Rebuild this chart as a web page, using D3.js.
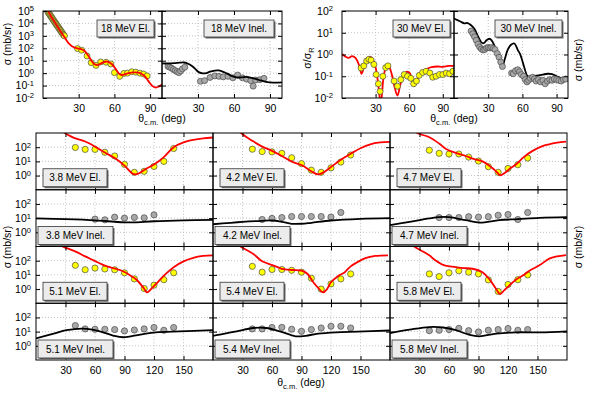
<!DOCTYPE html>
<html>
<head>
<meta charset="utf-8">
<script src="https://cdn.jsdelivr.net/npm/d3@7"></script>
<style>
body { margin: 0; background: #fff; }
svg { font-family: "Liberation Sans", Arial, sans-serif; }
</style>
</head>
<body>
<svg id="chart" width="600" height="402"></svg>
<script>
// ---- data (angle in deg, cross section) ----
let el18Pts = [[4,9e4],[4.5,7.5e4],[5,6.5e4],[5.5,5.5e4],[6,4.6e4],[6.5,3.9e4],[7,3.3e4],[7.5,2.8e4],[8,2.4e4],[8.5,2e4],[9,1.7e4],[9.5,1.45e4],[10,1.25e4],[10.5,1.05e4],[11,9e3],[11.5,7.6e3],[12,6.5e3],[12.5,5.6e3],[13,4.8e3],[13.5,4e3],[14,3.4e3],[14.5,2.9e3],[15,2.5e3],[15.5,2.1e3],[16,1.8e3],[16.5,1.5e3],[17,1.3e3],[17.5,1.15e3],[18,1e3],
    [29,95],[32.5,70],[37,24],[40.5,7],[44.5,4.2],[48.5,8],[53,7.5],[57,5.5],[60,1.1],[64.5,0.55],[68,0.95],[71,1.0],[74.5,1.3],[78,1.2],[81.5,1.0],[84.5,0.85],[87.5,0.6]];
let el18Fit = [[3,2e5],[6,5e4],[10,1.2e4],[14,3e3],[18,800],[22,230],[26,120],[29,100],[32,85],[35,60],[37,35],[39,18],[41,9],[43,5.5],[46,4.4],[50,7],[54,8.6],[58,5.2],[61,2.2],[63.5,1.0],[66,0.7],[68.5,0.8],[72,1.0],[76,1.15],[80,1.1],[83,0.85],[86,0.5],[89,0.2],[92,0.09],[94.5,0.07],[97,0.08],[100,0.12]];
let inel18Pts = [[5,3.5],[6.5,3.0],[8,2.5],[9.5,2.0],[11,1.6],[12.5,1.3],[14,1.1],[15.5,1.5],[17,2.2],[19,3.0],[32,0.22],[35.5,0.25],[40,0.45],[44,0.6],[47.5,0.55],[51,0.5],[55,0.55],[59,0.42],[63,0.7],[67,0.42],[70.5,0.33],[74,0.25],[76,0.09],[78,0.28],[81.5,0.3],[85,0.38]];
let inel18Fit = [[0,6.0],[5,6.0],[10,6.3],[15,7.0],[18,7.2],[21,6.2],[25,3.8],[28,2.0],[31,1.15],[34,0.95],[37,1.0],[40,1.3],[44,1.6],[47,1.65],[50,1.4],[54,0.95],[58,0.6],[62,0.46],[66,0.45],[70,0.5],[73,0.45],[77,0.36],[81,0.28],[85,0.22],[90,0.18],[95,0.17],[100,0.18]];

let el30Pts = [[17,0.24],[19.5,0.3],[22,0.5],[24,0.6],[26,0.55],[28.5,0.35],[30.5,0.12],[32.5,0.045],[34,0.02],[36.5,0.1],[39,0.25],[41,0.3],[46.5,0.06],[49.5,0.035],[52.5,0.07],[55.5,0.12],[58.5,0.1],[61.5,0.08],[64,0.045],[66.5,0.06],[69,0.11],[72,0.15],[75,0.17],[78.5,0.14],[81,0.09],[84,0.1],[87,0.12],[90,0.12],[93,0.14],[96,0.13],[99,0.17]];
let el30Fit = [[0,1.05],[3,0.8],[6,0.7],[9,0.85],[12,0.7],[15,0.35],[17.5,0.13],[19.5,0.25],[22,0.6],[25,0.8],[27.5,0.6],[30,0.25],[32,0.06],[33.5,0.012],[34.5,0.006],[35.5,0.012],[37,0.08],[39.5,0.28],[41.5,0.3],[44,0.15],[46.5,0.04],[49.5,0.013],[52,0.04],[55,0.12],[57.5,0.16],[60.5,0.14],[63,0.05],[64.5,0.035],[66.5,0.06],[69,0.1],[72,0.17],[76,0.22],[80,0.26],[85,0.28],[90,0.27],[95,0.3],[100,0.3]];
let inel30Pts = [[15,12],[16.5,9],[18,6.5],[19.5,4.5],[21,3.0],[22.5,2.2],[24,1.8],[25.5,1.6],[27,1.7],[28.5,2.0],[30,2.1],[31.5,2.0],[33,2.1],[34.5,1.9],[36,1.7],[38,1.1],[39.5,0.75],[41,0.45],[42.5,0.28],[50.5,0.14],[52,0.13],[54,0.18],[56,0.2],[57.5,0.16],[59,0.12],[61,0.1],[62.5,0.07],[64,0.055],[65.5,0.065],[67,0.08],[69,0.09],[70.5,0.075],[72,0.06],[74,0.07],[76,0.055],[78,0.065],[80,0.045],[82,0.06],[84,0.07],[86,0.065],[88,0.075],[90,0.07],[92,0.065],[94,0.06],[96,0.07],[98,0.075]];
let inel30Fit = [[0,45],[3,38],[6,32],[9,27],[12,28],[15,22],[18,15],[20,9],[22,5.5],[24,3.6],[26,3.3],[28.5,4.5],[31,5.3],[33,4.5],[35.5,2.5],[38,1.1],[40.5,0.45],[42.5,0.3],[44.5,0.6],[47,1.6],[50,2.8],[53,3.2],[56,1.6],[58,1.05],[60,0.5],[62,0.22],[64.5,0.1],[67,0.095],[70,0.1],[74,0.11],[78,0.12],[82,0.13],[86,0.125],[90,0.1],[95,0.08],[100,0.065]];

let el38Pts = [[40,95],[50,70],[60,70],[70,44],[80,24],[90,6.1],[100,1.7],[110,2.0],[120,4.4],[130,10],[140,81]];
let el38Fit = [[20,3000],[28,1150],[35,600],[40,420],[50,250],[60,110],[70,42],[80,17],[90,5],[97,1.6],[101,1.2],[106,1.6],[112,3],[120,6],[130,20],[140,100],[150,220],[160,330],[170,420],[180,480]];
let inel38Pts = [[60,8.5],[70,7.6],[80,11.7],[90,10],[100,11.2],[110,10.5],[120,17]];
let inel38Fit = [[0,9.5],[30,8.5],[60,7],[80,5.5],[90,5],[100,5],[120,6],[150,7],[180,7.5]];

let el42Pts = [[40,72],[50,49],[60,46],[70,37],[80,18],[90,6.9],[100,2.4],[110,1.7],[120,3.5],[130,8.9],[140,28]];
let el42Fit = [[22,3000],[27,1200],[40,280],[50,110],[60,55],[70,24],[80,9.5],[90,5.5],[100,2.0],[107,1.2],[113,1.8],[120,4],[130,13],[140,35],[150,85],[160,160],[170,215],[180,240]];
let inel42Pts = [[50,8],[60,9.5],[70,11],[80,13],[90,13],[100,13],[110,13],[120,12],[130,25]];
let inel42Fit = [[0,3.7],[30,5.5],[50,6.5],[60,6.8],[70,5.5],[80,4],[90,4],[100,4.7],[120,6.8],[150,8.9],[180,10]];

let el47Pts = [[40,61],[50,37],[60,33],[70,33],[80,20],[90,10.5],[100,4.2],[110,1.7],[120,3.2],[130,5.8],[140,17]];
let el47Fit = [[20,4000],[27,1100],[40,500],[50,180],[57,75],[67,40],[77,24],[85,15],[94,10],[101,5],[108,2],[112,1.05],[117,1.6],[123,3.5],[128,6],[136,20],[145,55],[155,120],[162,160],[170,210],[179,250]];
let inel47Pts = [[50,11],[60,11],[70,11],[80,12.6],[90,11.8],[100,12.6],[110,16],[120,18],[130,8],[140,25]];
let inel47Fit = [[0,3.2],[20,5.5],[40,9.5],[50,11.7],[60,11.7],[77,7.2],[91,4.9],[111,7.2],[130,8.5],[152,10.5],[180,11.7]];

let el51Pts = [[40,47],[50,23],[60,30],[70,26],[80,23],[90,14],[100,5.2],[110,1.1],[120,1.9],[130,4.6],[140,14]];
let el51Fit = [[20,3000],[25,1150],[33,700],[41,420],[50,200],[58.5,105],[67,55],[75,35],[82,26],[90,16],[96,9],[102,4.7],[109,1.3],[113,0.58],[117,1.0],[122,2.3],[132,11.7],[140,35],[150,90],[160,160],[170,215],[180,240]];
let inel51Pts = [[40,27],[50,15.5],[60,14.7],[70,14.7],[80,14],[90,11.2],[100,13],[110,15.5],[120,19.5],[130,12.5],[140,19.5]];
let inel51Fit = [[0,3.3],[18,7.2],[31,12.6],[48,16.2],[65,10.5],[79,5.1],[89,4],[106,6.2],[122,8.9],[146,10.5],[180,12.6]];

let el54Pts = [[40,40],[50,15.5],[60,24],[70,24],[80,21],[90,15.5],[100,5.8],[110,1.0],[120,2.3],[130,5.2],[140,11.7]];
let el54Fit = [[20,3000],[26,1200],[41,300],[50,90],[61,47],[70,27],[80,22],[90,20],[96,12],[102,3],[107,1.2],[112,0.58],[116,1.0],[120,3],[127,8],[134,15.5],[140,40],[147,80],[155,150],[165,215],[178,240]];
let inel54Pts = [[40,15.5],[50,15.5],[60,19.5],[70,20],[80,14.7],[90,10.5],[100,14],[110,18],[120,24],[130,24],[140,18]];
let inel54Fit = [[0,5],[7,6.2],[24,10.5],[41,18],[54,18],[68,10.5],[84,4.7],[94,5.1],[107,7.2],[125,8.9],[147,10],[180,12]];

let el58Pts = [[40,11.7],[50,7.6],[60,14],[70,19.5],[80,15.5],[90,11.7],[100,4.4],[110,0.68],[120,2.1],[130,4.6],[140,10]];
let el58Fit = [[18,3000],[23,1200],[40,240],[44,138],[54,51],[61,40],[67,35],[75,30],[84,27],[94,15.5],[101,5],[108,1.0],[112,0.44],[116,0.8],[121,1.7],[128,4.5],[135,9],[143,22],[152,47],[162,140],[170,200],[179,250]];
let inel58Pts = [[40,11.7],[50,12.5],[60,14],[70,17],[80,11.7],[90,9.5],[100,12.5],[110,14],[120,16.5],[130,12.5],[140,14]];
let inel58Fit = [[0,8],[20,13.8],[40,21],[54,19.5],[67,12.6],[81,5.8],[91,4.7],[108,7.2],[128,8.9],[152,8.9],[180,10.5]];

let topXTicks = [30, 60, 90];
let botXTicks = [30, 60, 90, 120, 150];
let yTicks18 = [1e-2, 1e-1, 1, 1e1, 1e2, 1e3, 1e4, 1e5];
let yTicks30 = [1e-2, 1e-1, 1, 1e1, 1e2];
let yTicksBot = [1, 10, 100];

let svg = d3.select("#chart");
let defs = svg.append("defs");
let gridLayer = svg.append("g");
let dataLayer = svg.append("g");
let frameLayer = svg.append("g");
let textLayer = svg.append("g");
let FONT = "'Liberation Sans', Arial, sans-serif";
let clipCount = 0;

function supLabels(sel) {
    sel.selectAll(".tick text").each(function (d) {
        let t = d3.select(this);
        let e = Math.round(Math.log10(d));
        t.text("10");
        t.append("tspan").attr("dy", "-0.45em").attr("font-size", "0.72em").text(e);
    });
}

// one log-scale panel: grid, clipped layer for marks, axes with inward ticks
function makePanel(p) {
    let x = d3.scaleLinear().domain(p.xDom).range([p.x0, p.x1]);
    let y = d3.scaleLog().domain(p.yDom).range([p.y1, p.y0]);
    let id = "clip" + clipCount++;
    defs.append("clipPath").attr("id", id).append("rect")
        .attr("x", p.x0).attr("y", p.y0)
        .attr("width", p.x1 - p.x0).attr("height", p.y1 - p.y0);

    let grid = gridLayer.append("g")
        .attr("stroke", "#b4b4b4").attr("stroke-width", 0.8).attr("stroke-dasharray", "1,2");
    grid.selectAll(".vx").data(p.xTicks).join("line")
        .attr("x1", (d) => x(d)).attr("x2", (d) => x(d))
        .attr("y1", p.y0).attr("y2", p.y1);
    grid.selectAll(".hy").data(p.yTicks.filter((d) => y(d) > p.y0 + 1 && y(d) < p.y1 - 1)).join("line")
        .attr("x1", p.x0).attr("x2", p.x1)
        .attr("y1", (d) => y(d)).attr("y2", (d) => y(d));

    let plot = dataLayer.append("g").attr("clip-path", `url(#${id})`);

    let ax = frameLayer.append("g");
    let bottom = ax.append("g").attr("transform", `translate(0,${p.y1})`)
        .call(d3.axisBottom(x).tickValues(p.xTicks).tickSize(-4).tickPadding(p.xPad || 7)
            .tickFormat(p.xLabels ? d3.format("d") : ""));
    ax.append("g").attr("transform", `translate(0,${p.y0})`)
        .call(d3.axisTop(x).tickValues(p.xTicks).tickSize(-4).tickFormat(""));
    let left = ax.append("g").attr("transform", `translate(${p.x0},0)`)
        .call(d3.axisLeft(y).tickValues(p.yTicks).tickSize(-4).tickPadding(p.yPad || 9)
            .tickFormat(p.yLabels ? (d) => d : ""));
    ax.append("g").attr("transform", `translate(${p.x1},0)`)
        .call(d3.axisRight(y).tickValues(p.yTicks).tickSize(-4).tickFormat(""));
    if (p.yLabels) supLabels(left);
    ax.selectAll(".domain").remove();
    ax.selectAll("text").attr("fill", "#000");
    ax.selectAll("g").attr("font-family", FONT).attr("font-size", 10.5);

    frameLayer.append("rect")
        .attr("x", p.x0).attr("y", p.y0)
        .attr("width", p.x1 - p.x0).attr("height", p.y1 - p.y0)
        .attr("fill", "none").attr("stroke", "#000").attr("stroke-width", 1);

    return { x, y, plot };
}

function addCurve(pn, data, color) {
    pn.plot.append("path")
        .datum(data)
        .attr("fill", "none")
        .attr("stroke", color)
        .attr("stroke-width", 1.8)
        .attr("stroke-linejoin", "round")
        .attr("d", d3.line()
            .x((d) => pn.x(d[0]))
            .y((d) => pn.y(d[1]))
            .curve(d3.curveCatmullRom.alpha(0.5)));
}

function addPoints(pn, data, fill, r) {
    pn.plot.append("g").selectAll("circle").data(data).join("circle")
        .attr("cx", (d) => pn.x(d[0]))
        .attr("cy", (d) => pn.y(d[1]))
        .attr("r", r || 3)
        .attr("fill", fill)
        .attr("stroke", "#4a4a4a")
        .attr("stroke-width", 0.7);
}

function labelBox(x, y, w, h, txt) {
    textLayer.append("rect").attr("x", x + 1.5).attr("y", y + 1.5).attr("width", w).attr("height", h)
        .attr("fill", "#6a6a6a");
    textLayer.append("rect").attr("x", x).attr("y", y).attr("width", w).attr("height", h)
        .attr("fill", "#ececec").attr("stroke", "#333").attr("stroke-width", 0.8);
    textLayer.append("text").attr("x", x + w / 2).attr("y", y + h / 2 + 3.6)
        .attr("text-anchor", "middle").attr("font-size", 10).text(txt);
}

function thetaLabel(cx, by) {
    let t = textLayer.append("text").attr("x", cx).attr("y", by)
        .attr("text-anchor", "middle").attr("font-size", 10.5);
    t.append("tspan").text("θ");
    t.append("tspan").attr("font-size", 7.5).attr("dy", 3).text("c.m.");
    t.append("tspan").attr("dy", -3).text(" (deg)");
}

function yLabel(x, cy, parts) {
    let t = textLayer.append("text")
        .attr("transform", `translate(${x},${cy}) rotate(-90)`)
        .attr("text-anchor", "middle").attr("font-size", 10.5);
    parts(t);
}

// ---- top row ----
let T0 = 11, T1 = 98;
let p18e = makePanel({ x0: 43, x1: 162, y0: T0, y1: T1, xDom: [0, 100], yDom: [1e-2, 1e5],
    xTicks: topXTicks, yTicks: yTicks18, xLabels: true, yLabels: true });
let p18i = makePanel({ x0: 162, x1: 282, y0: T0, y1: T1, xDom: [0, 100], yDom: [1e-2, 1e5],
    xTicks: topXTicks, yTicks: yTicks18, xLabels: true });
let p30e = makePanel({ x0: 342, x1: 454, y0: T0, y1: T1, xDom: [0, 100], yDom: [1e-2, 1e2],
    xTicks: topXTicks, yTicks: yTicks30, xLabels: true, yLabels: true });
let p30i = makePanel({ x0: 454, x1: 568, y0: T0, y1: T1, xDom: [0, 100], yDom: [1e-2, 1e2],
    xTicks: topXTicks, yTicks: yTicks30, xLabels: true });

addPoints(p18e, el18Pts, "#ffff00", 3);
addCurve(p18e, el18Fit, "#ff0000");
addPoints(p18i, inel18Pts, "#a8a8a8", 3);
addCurve(p18i, inel18Fit, "#000");
addCurve(p30e, el30Fit, "#ff0000");
addPoints(p30e, el30Pts, "#ffff00", 3);
addCurve(p30i, inel30Fit, "#000");
addPoints(p30i, inel30Pts, "#a8a8a8", 3);

labelBox(97, 20, 57, 17, "18 MeV El.");
labelBox(204, 20, 70, 17, "18 MeV Inel.");
labelBox(393, 20, 57, 17, "30 MeV El.");
labelBox(495, 20, 67, 17, "30 MeV Inel.");

thetaLabel(162, 122);
thetaLabel(454, 122);
yLabel(11, 44, (t) => t.text("σ (mb/sr)"));
yLabel(311, 58, (t) => {
    t.append("tspan").text("σ/σ");
    t.append("tspan").attr("font-size", 7.5).attr("dy", 3).text("R");
});
yLabel(582, 60, (t) => t.text("σ (mb/sr)"));

// ---- bottom grid: 3 columns x 4 rows ----
let colX = [36, 213, 390];
let colW = 177;
let rowY = [133, 189.75, 246.5, 303.25, 360];
let energies = [["3.8", "4.2", "4.7"], ["5.1", "5.4", "5.8"]];
let elSets = [[[el38Pts, el38Fit], [el42Pts, el42Fit], [el47Pts, el47Fit]],
              [[el51Pts, el51Fit], [el54Pts, el54Fit], [el58Pts, el58Fit]]];
let inelSets = [[[inel38Pts, inel38Fit], [inel42Pts, inel42Fit], [inel47Pts, inel47Fit]],
                [[inel51Pts, inel51Fit], [inel54Pts, inel54Fit], [inel58Pts, inel58Fit]]];

for (let blk = 0; blk < 2; blk++) {
    for (let c = 0; c < 3; c++) {
        for (let k = 0; k < 2; k++) {
            let r = blk * 2 + k;
            let pn = makePanel({ x0: colX[c], x1: colX[c] + colW, y0: rowY[r], y1: rowY[r + 1],
                xDom: [0, 180], yDom: [0.1, 1000], xTicks: botXTicks, yTicks: yTicksBot,
                xLabels: r === 3, yLabels: c === 0, yPad: 5, xPad: 6.5 });
            let set = k === 0 ? elSets[blk][c] : inelSets[blk][c];
            if (k === 0) {
                addPoints(pn, set[0], "#ffff00", 3.1);
                addCurve(pn, set[1], "#ff0000");
                labelBox(colX[c] + 7, rowY[r + 1] - 21, 64, 18, energies[blk][c] + " MeV El.");
            } else {
                addPoints(pn, set[0], "#a8a8a8", 3.1);
                addCurve(pn, set[1], "#000");
                labelBox(colX[c] + 2, rowY[r + 1] - 20, 75, 18, energies[blk][c] + " MeV Inel.");
            }
        }
    }
}

thetaLabel(301, 386);
yLabel(11, 247, (t) => t.text("σ (mb/sr)"));
yLabel(582, 247, (t) => t.text("σ (mb/sr)"));
</script>
</body>
</html>
